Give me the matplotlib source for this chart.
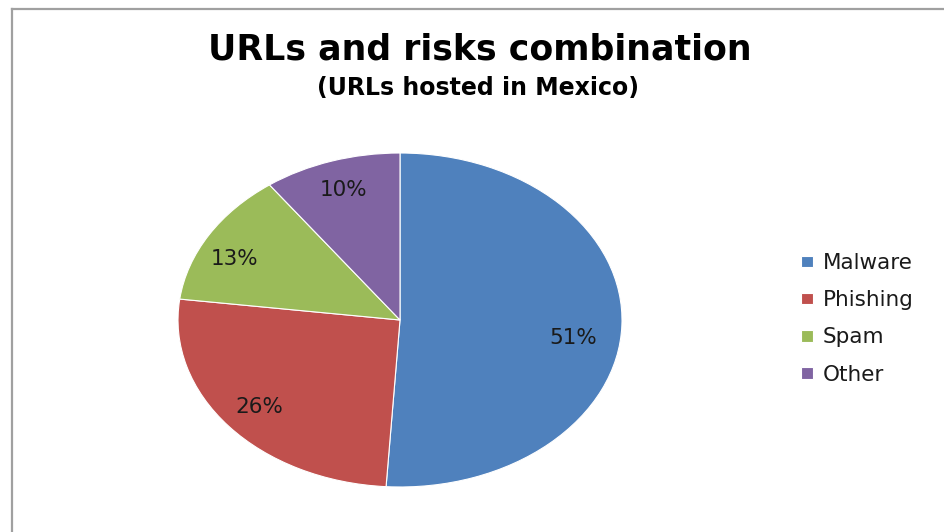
import matplotlib
matplotlib.use("Agg")
import matplotlib.pyplot as plt
from matplotlib.lines import Line2D
import numpy as np

categories = ["Malware", "Phishing", "Spam", "Other"]
values = [51, 26, 13, 10]
colors = ["#4F81BD", "#C0504D", "#9BBB59", "#8064A2"]

W, H = 944, 532
fig = plt.figure(figsize=(W / 100, H / 100), dpi=100)
fig.patch.set_facecolor("white")

# frame (left and top border)
fig.add_artist(Line2D([11.5 / W, 11.5 / W], [0, 1 - 9 / H], color="#A0A0A0", lw=1.6))
fig.add_artist(Line2D([11.5 / W, 1], [1 - 9 / H, 1 - 9 / H], color="#A0A0A0", lw=1.6))

# pie axes (ellipse, stretched horizontally)
cx, cy, rx, ry = 400, 320, 222, 167
ax = fig.add_axes([(cx - rx) / W, (H - cy - ry) / H, 2 * rx / W, 2 * ry / H])
wedges, texts, autotexts = ax.pie(
    values, colors=colors, startangle=90, counterclock=False,
    autopct="%d%%", pctdistance=0.82,
    wedgeprops=dict(edgecolor="white", linewidth=0.8),
    textprops=dict(fontsize=15.5, color="#1a1a1a", family="DejaVu Sans"),
)
ax.set_aspect("auto")
ax.set_xlim(-1, 1)
ax.set_ylim(-1, 1)
ax.axis("off")
# nudge labels slightly as in the original layout
x0, y0 = autotexts[0].get_position()
autotexts[0].set_position((x0 - 0.04, y0 - 0.08))
x2, y2 = autotexts[2].get_position()
autotexts[2].set_position((x2 - 0.04, y2 - 0.05))

fig.text(480 / W, 1 - 60 / H, "URLs and risks combination", ha="center", va="baseline",
         fontsize=25, fontweight="bold", family="DejaVu Sans", color="black")
fig.text(478 / W, 1 - 95 / H, "(URLs hosted in Mexico)", ha="center", va="baseline",
         fontsize=17, fontweight="bold", family="DejaVu Sans", color="black")

leg = fig.legend(wedges, categories, loc="upper left",
                 bbox_to_anchor=(801 / W, 1 - 253 / H), frameon=False,
                 borderaxespad=0, borderpad=0,
                 prop=dict(family="DejaVu Sans", size=15.5),
                 handlelength=0.55, handleheight=0.45, handletextpad=0.45,
                 labelspacing=0.8, labelcolor="#1a1a1a")

fig.savefig("out.png", dpi=100, facecolor="white")
